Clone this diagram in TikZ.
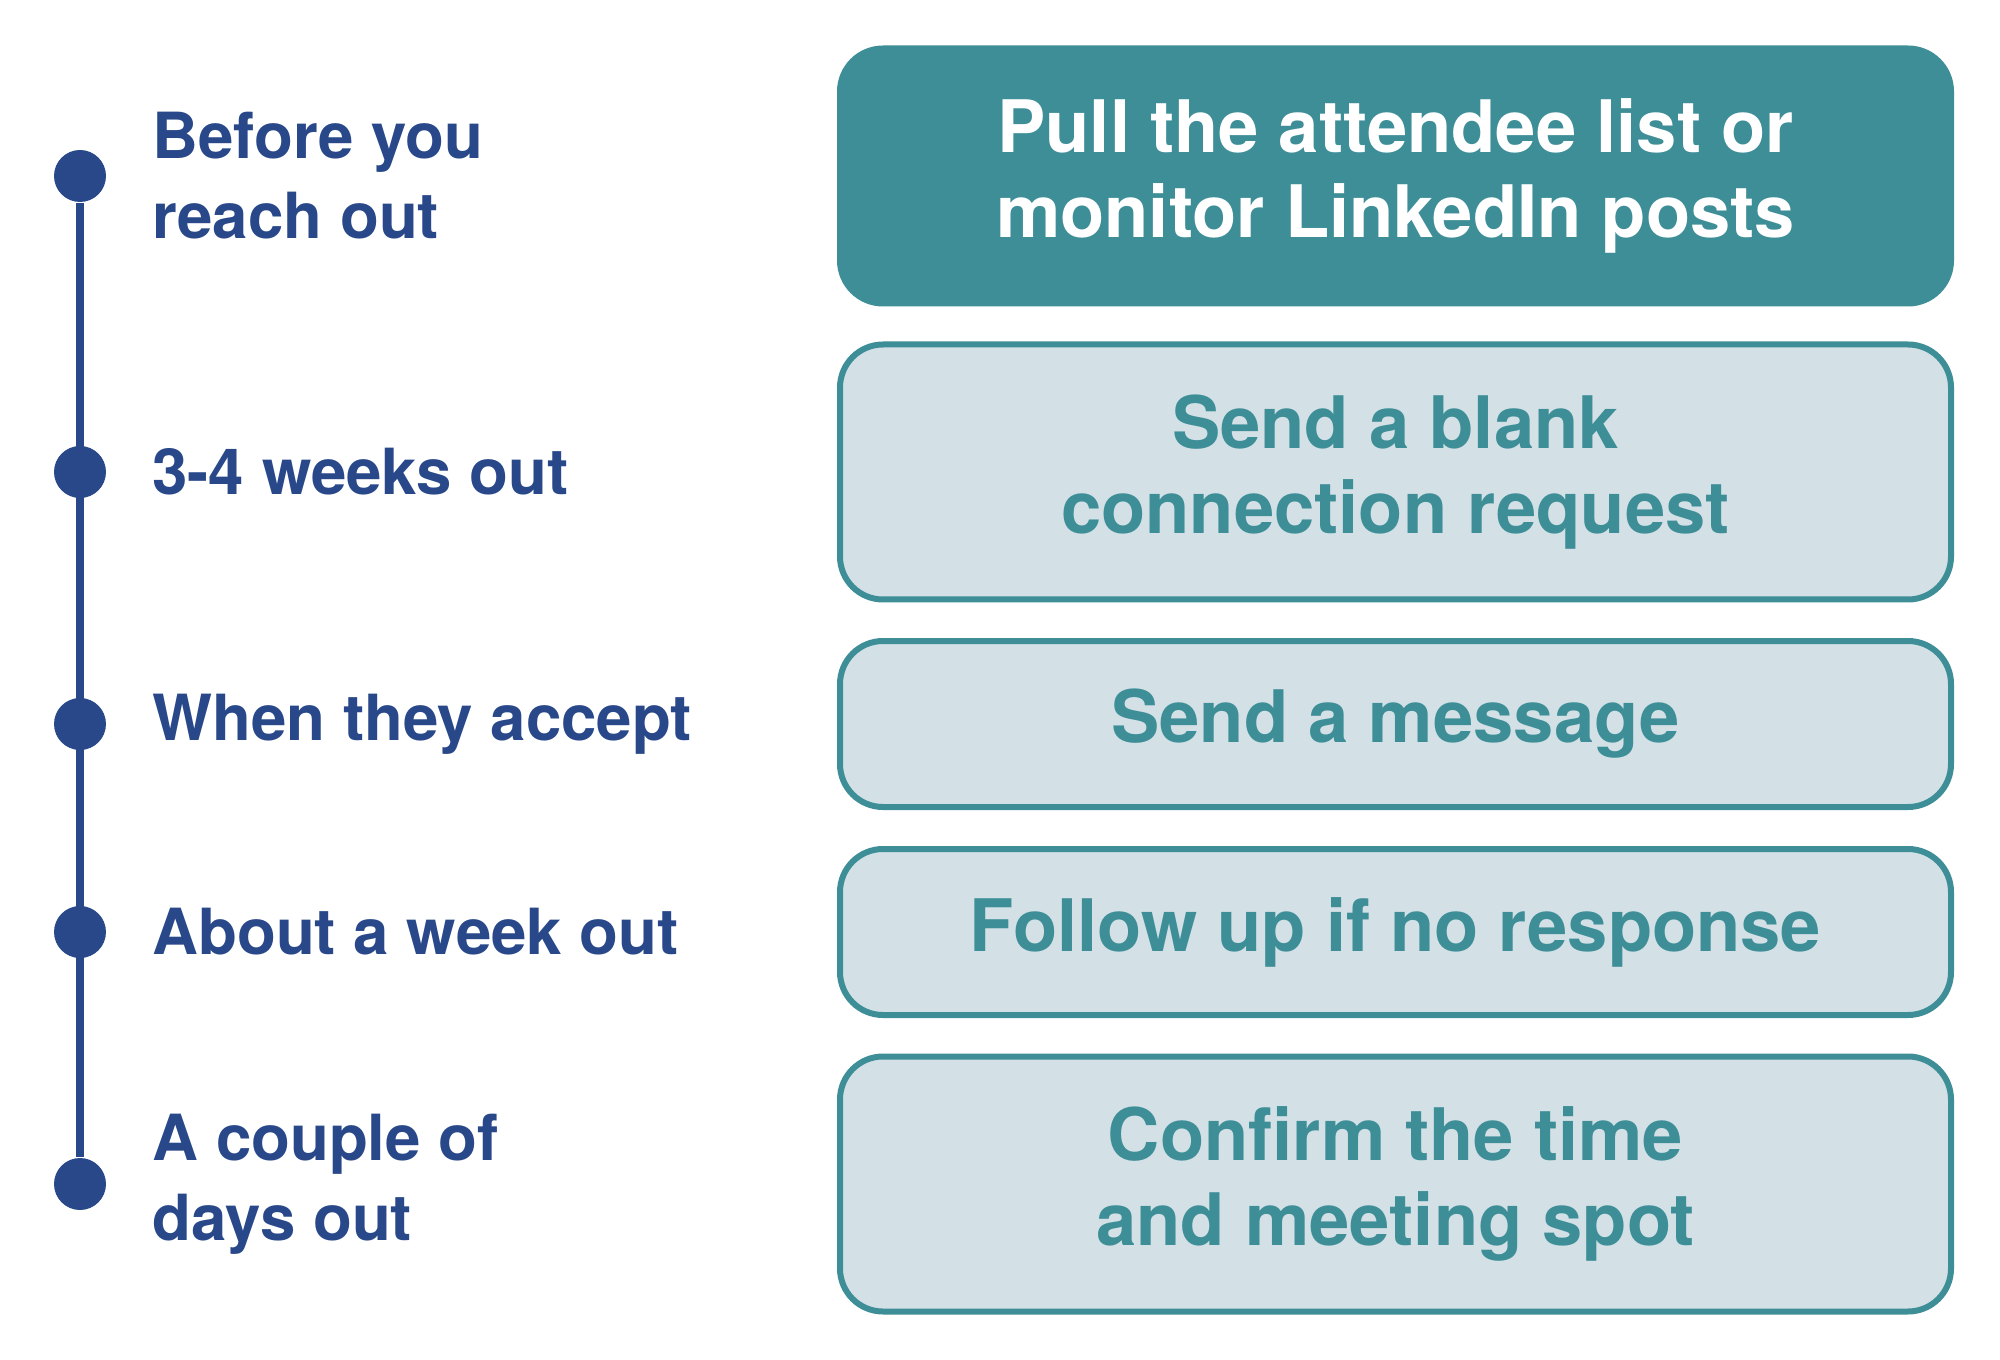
\documentclass[tikz,border=0pt]{standalone}
\usepackage{fontspec}
\setmainfont{TeX Gyre Heros}
\usetikzlibrary{positioning}
\definecolor{tlblue}{RGB}{41,72,138}
\definecolor{tlteal}{RGB}{62,142,152}
\definecolor{tlpale}{RGB}{211,225,230}
\begin{document}
\begin{tikzpicture}[node distance=0.45cm]
    \tikzstyle{milestone}=[circle,fill=tlblue,minimum size=0.52cm,inner sep=0pt]
    \tikzstyle{stage}=[text=tlblue,align=left,inner sep=0pt,
      font=\bfseries\fontsize{18.1}{22.8}\selectfont]
    \tikzstyle{task}=[rounded corners=0.43cm,draw=tlteal,line width=0.06cm,
      fill=tlpale,text=tlteal,minimum width=11.11cm,align=center,
      font=\bfseries\fontsize{20.6}{24.4}\selectfont]

    \useasboundingbox (0,0) rectangle (20,-13.6);

    % timeline dots
    \foreach \n/\y in {1/1.76,2/4.72,3/7.24,4/9.32,5/11.84}
    \node[milestone] (D-\n) at (0.8,-\y) {};

    % the line through them
    \draw[tlblue,line width=0.08cm] (D-1) -- (D-5);

    % when
    \node[stage,right=of D-1] (L-1) {Before you\\reach out};
    \node[stage,right=of D-2] (L-2) {3-4 weeks out};
    \node[stage,right=of D-3] (L-3) {When they accept};
    \node[stage,right=of D-4] (L-4) {About a week out};
    \node[stage,right=of D-5] (L-5) {A couple of\\days out};

    % what to do
    \node[task,fill=tlteal,text=white,minimum height=2.55cm] (T-1)
      at (13.955,-1.76) {Pull the attendee list or\\monitor LinkedIn posts};
    \foreach \n/\y/\h/\txt in {2/4.72/2.55/{Send a blank\\connection request},
      3/7.24/1.66/{Send a message},
      4/9.32/1.66/{Follow up if no response},
      5/11.84/2.55/{Confirm the time\\and meeting spot}}
    \node[task,minimum height=\h cm] (T-\n) at (13.955,-\y) {\txt};
\end{tikzpicture}
\end{document}
